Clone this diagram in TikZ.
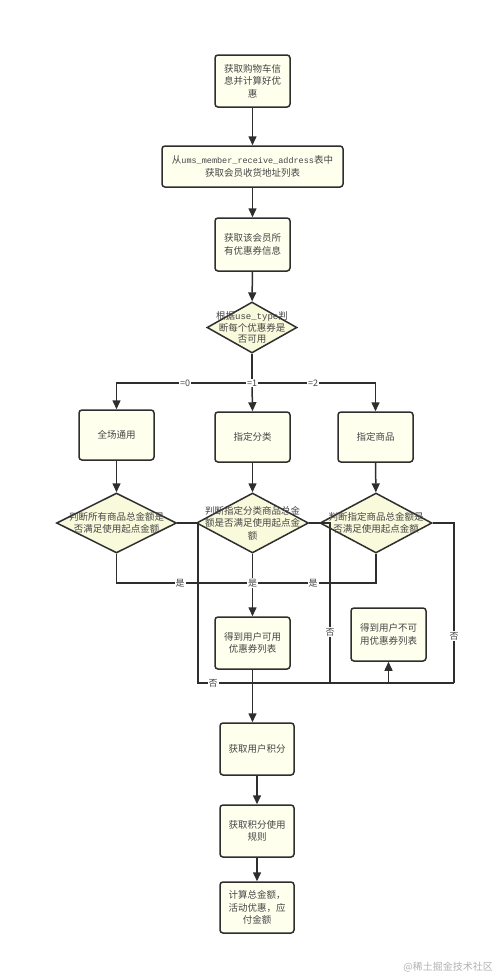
\documentclass[tikz,border=0pt]{standalone}
\usepackage{fontspec}
\setmainfont{Noto Sans CJK SC}
\newfontfamily\monof{Liberation Mono}
\usetikzlibrary{arrows.meta,shapes.geometric}
\definecolor{linec}{HTML}{2E2E2E}
\definecolor{boxfill}{HTML}{FFFFEE}
\definecolor{diafill}{HTML}{F9F9DC}
\definecolor{txt}{HTML}{454545}
\begin{document}
\begin{tikzpicture}[x=1pt,y=-1pt,
  box/.style={draw=linec, fill=boxfill, rounded corners=3pt, line width=1.5pt, inner sep=0pt,
    align=center, text=txt, font=\fontsize{9.5}{12.5}\selectfont},
  dia/.style={draw=linec, fill=diafill, diamond, inner sep=0pt, line width=1.5pt},
  dtext/.style={align=center, text=txt, font=\fontsize{9.5}{12.5}\selectfont, inner sep=0pt},
  ln/.style={line width=1.5pt, draw=linec},
  arr/.style={line width=1.5pt, draw=linec, -{Triangle[length=9pt,width=8pt]}},
  lab/.style={fill=white, inner sep=1pt, text=txt, font=\fontsize{9}{10}\selectfont}]
\fill[white] (0,0) rectangle (500,980);
\useasboundingbox (0,0) rectangle (500,980);

% boxes
\node[box, minimum width=75pt, minimum height=52pt] (b1) at (252.5,81) {获取购物车信\\息并计算好优\\惠};
\node[box, minimum width=181pt, minimum height=41pt] (b2) at (252.5,166.5) {从{\monof\fontsize{8.5}{12}\selectfont ums\_member\_receive\_address}表中\\获取会员收货地址列表};
\node[box, minimum width=75pt, minimum height=53pt] (b3) at (252.5,244.5) {获取该会员所\\有优惠券信息};
\node[dia, minimum width=90pt, minimum height=51pt] (d1) at (252,327.5) {};
\node[dtext, font=\fontsize{9.5}{11.5}\selectfont] (t1) at (d1.center) {根据{\monof\fontsize{9}{11}\selectfont use\_type}判\\断每个优惠券是\\否可用};

\node[box, minimum width=75pt, minimum height=50pt] (bA) at (116.5,435) {全场通用};
\node[box, minimum width=75pt, minimum height=50pt] (bB) at (252.5,437) {指定分类};
\node[box, minimum width=75pt, minimum height=50pt] (bC) at (375.5,437) {指定商品};

\node[dia, minimum width=120pt, minimum height=60pt] (dA) at (116.5,523) {};
\node[dtext] (tA) at (dA.center) {判断所有商品总金额是\\否满足使用起点金额};
\node[dia, minimum width=112pt, minimum height=60pt] (dB) at (252.5,523) {};
\node[dtext] (tB) at (dB.center) {判断指定分类商品总金\\额是否满足使用起点金\\额};
\node[dia, minimum width=112pt, minimum height=60pt] (dC) at (376,523) {};
\node[dtext] (tC) at (dC.center) {判断指定商品总金额是\\否满足使用起点金额};

\node[box, minimum width=75pt, minimum height=52pt] (bY) at (252.5,643) {得到用户可用\\优惠券列表};
\node[box, minimum width=75pt, minimum height=53pt] (bN) at (388.5,634.5) {得到用户不可\\用优惠券列表};

\node[box, minimum width=74pt, minimum height=52pt] (b7) at (257,749) {获取用户积分};
\node[box, minimum width=74pt, minimum height=52pt] (b8) at (257,831) {获取积分使用\\规则};
\node[box, minimum width=74pt, minimum height=51pt] (b9) at (257,907.5) {计算总金额，\\活动优惠，应\\付金额};

\node[text=black!30, font=\fontsize{10}{10}\selectfont, anchor=east, inner sep=0pt] (wm) at (493,967) {@稀土掘金技术社区};

% coordinates
\coordinate (j0) at (252,383);
\coordinate (jL) at (116.5,383);
\coordinate (jR) at (375.5,383);
\coordinate (yA) at (116.5,583);
\coordinate (yM) at (252.5,583);
\coordinate (yC) at (376,583);
\coordinate (nA1) at (198,523);
\coordinate (nA2) at (198,683);
\coordinate (nB1) at (330,523);
\coordinate (nB2) at (330,683);
\coordinate (nC1) at (454,523);
\coordinate (nC2) at (454,683);
\coordinate (nN) at (388.5,683);

% connectors
\draw[arr] (b1) -- (b2);
\draw[arr] (b2) -- (b3);
\draw[arr] (b3) -- (d1);
\draw[ln] (d1.south) -- (j0);
\draw[arr] (j0) -- (jL) -- (bA.north);
\draw[arr] (j0) -- (jR) -- (bC.north);
\draw[arr] (j0) -- (bB.north);
\node[lab] (l0) at (185,383) {=0};
\node[lab] (l1) at (252,383) {=1};
\node[lab] (l2) at (313,383) {=2};

\draw[arr] (bA) -- (dA);
\draw[arr] (bB) -- (dB);
\draw[arr] (bC) -- (dC);

\draw[ln] (dA.south) -- (yA) -- (yM);
\draw[ln] (dC.south) -- (yC) -- (yM);
\draw[arr] (dB.south) -- (bY.north);
\node[lab] (ly1) at (180,583) {是};
\node[lab] (ly2) at (252.5,583) {是};
\node[lab] (ly3) at (313,583) {是};

\draw[ln] (dA.east) -- (nA1) -- (nA2) -- (nC2);
\draw[ln] (dB.east) -- (nB1) -- (nB2);
\draw[ln] (dC.east) -- (nC1) -- (nC2);
\draw[arr] (nN) -- (bN.south);
\node[lab] (ln1) at (213,683) {否};
\node[lab] (ln2) at (330,632) {否};
\node[lab] (ln3) at (454,636) {否};

\draw[arr] (bY.south) -- (bY.south |- b7.north);
\draw[arr] (b7) -- (b8);
\draw[arr] (b8) -- (b9);
\end{tikzpicture}
\end{document}
